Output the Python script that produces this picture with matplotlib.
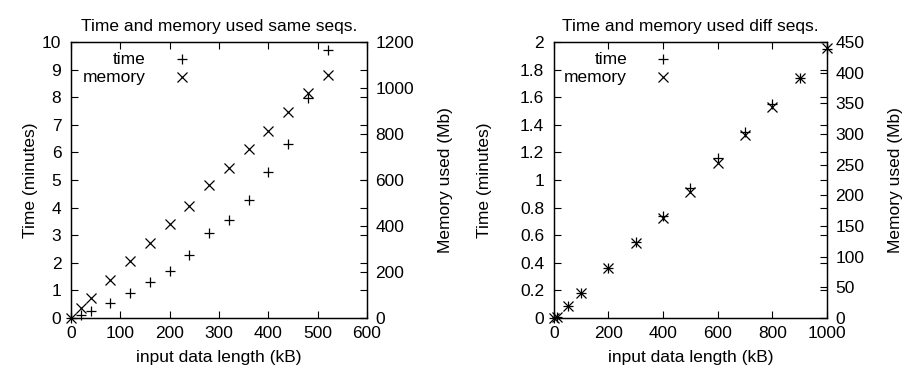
import matplotlib
matplotlib.use("Agg")
import matplotlib.pyplot as plt

plt.rcParams['font.family'] = ['Liberation Sans', 'DejaVu Sans']
plt.rcParams['font.size'] = 12.5

# same sequences
same_len = [0, 20, 40, 80, 120, 160, 200, 240, 280, 320, 360, 400, 440, 480, 520]
same_time = [0, 0.1, 0.25, 0.55, 0.9, 1.31, 1.71, 2.29, 3.08, 3.57, 4.26, 5.3, 6.3, 7.99, 9.7]
same_mem = [0, 44, 86, 165, 246, 328, 407, 487, 580, 652, 735, 815, 897, 978, 1057]

# different sequences
diff_len = [0, 10, 50, 100, 200, 300, 400, 500, 600, 700, 800, 900, 1000]
diff_time = [0, 0.01, 0.09, 0.18, 0.36, 0.55, 0.74, 0.94, 1.16, 1.35, 1.55, 1.74, 1.95]
diff_mem = [0, 2, 20, 41, 82, 123, 163, 206, 252, 298, 344, 392, 440]

fig = plt.figure(figsize=(9.08, 3.72), dpi=100)


def make_panel(rect, title, x, t, m, xlim, xticks, ylim, yticks, y2lim, y2ticks,
               yfmt, leg_x, pads):
    ax = fig.add_axes(rect)
    ax2 = ax.twinx()
    ax.plot(x, t, linestyle='none', marker='+', ms=7.5, mew=0.9, color='black')
    ax2.plot(x, m, linestyle='none', marker='x', ms=6.5, mew=0.9, color='black')

    ax.set_xlim(*xlim)
    ax.set_ylim(*ylim)
    ax2.set_ylim(*y2lim)
    ax.set_xticks(xticks)
    ax.set_yticks(yticks)
    ax.set_yticklabels([yfmt(v) for v in yticks])
    ax2.set_yticks(y2ticks)

    ax.tick_params(direction='in', length=5, width=0.8, top=True, right=True,
                   labelright=False, pad=7)
    ax.tick_params(axis='x', pad=6)
    ax2.tick_params(direction='in', length=5, width=0.8, pad=6)
    for a in (ax, ax2):
        for s in a.spines.values():
            s.set_linewidth(0.9)
    for ln in ax.lines + ax2.lines:
        ln.set_clip_on(False)

    ax.set_title(title, fontsize=12.5, pad=8)
    ax.set_xlabel('input data length (kB)', labelpad=6)
    ax.set_ylabel('Time (minutes)', labelpad=pads[0])
    ax2.set_ylabel('Memory used (Mb)', labelpad=pads[1])

    # gnuplot-style key: right aligned labels, sample to the right
    ax.text(leg_x[0], 0.938, 'time', transform=ax.transAxes, ha='right', va='center')
    ax.text(leg_x[0], 0.873, 'memory', transform=ax.transAxes, ha='right', va='center')
    ax.plot([leg_x[1]], [0.938], transform=ax.transAxes, marker='+', ms=7.5,
            mew=0.9, color='black', clip_on=False)
    ax.plot([leg_x[1]], [0.873], transform=ax.transAxes, marker='x', ms=6.5,
            mew=0.9, color='black', clip_on=False)
    return ax, ax2


make_panel([0.0782, 0.145, 0.326, 0.742], 'Time and memory used same seqs.',
           same_len, same_time, same_mem,
           (0, 600), range(0, 601, 100), (0, 10), list(range(0, 11)),
           (0, 1200), range(0, 1201, 200), lambda v: f'{v:g}', (0.252, 0.374),
           (3, 17))

make_panel([0.610, 0.145, 0.3007, 0.742], 'Time and memory used diff seqs.',
           diff_len, diff_time, diff_mem,
           (0, 1000), range(0, 1001, 200), (0, 2), [i * 0.2 for i in range(11)],
           (0, 450), range(0, 451, 50), lambda v: f'{round(v, 1):g}', (0.268, 0.400),
           (20, 17))

fig.savefig('out.png', dpi=100)
